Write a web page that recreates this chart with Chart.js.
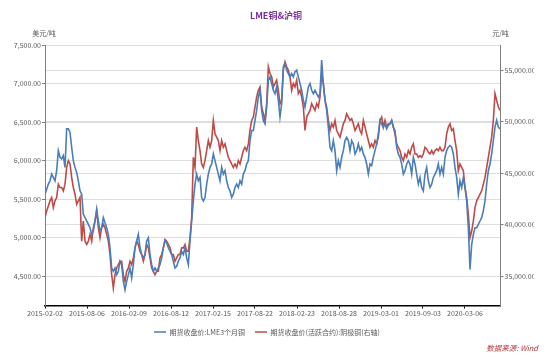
<!DOCTYPE html>
<html><head><meta charset="utf-8">
<script src="https://cdn.jsdelivr.net/npm/chart.js@4/dist/chart.umd.min.js"></script>
<style>html,body{margin:0;padding:0;background:#fff}canvas{display:block}</style>
</head><body>
<canvas id="c" width="550" height="357"></canvas>
<script>
// ---- data ----
const chartTitle = 'LME铜&沪铜';
const seriesNames = ['期货收盘价:LME3个月铜', '期货收盘价(活跃合约):阴极铜(右轴)'];
const xTickLabels = ['2015-02-02','2015-08-06','2016-02-09','2016-08-12','2017-02-15','2017-08-22','2018-02-23','2018-08-28','2019-03-01','2019-09-03','2020-03-06'];
const samplesPerLabel = 25.2;      // samples between two date labels
const leftTicks = [4500,5000,5500,6000,6500,7000,7500];
const rightTicks = [35000,40000,45000,50000,55000];
const leftRange = [4122, 7500];
const rightRange = [32171, 57439];

// LME 3-month copper (USD/t), left axis
const lmeCopper = [
5565,5631,5696,5739,5826,5783,5739,5870,6130,6044,6022,6065,5913,6413,6413,6370,6174,6000,5913,5848,
5739,5609,5565,5305,5261,5218,5174,5131,5044,5087,5218,5370,5218,5087,5131,5261,5196,5131,5044,4870,
4609,4566,4609,4522,4566,4696,4652,4435,4326,4435,4522,4609,4479,4652,4870,4957,5044,4870,4783,4739,
4783,4957,5000,4783,4652,4566,4609,
4566,4609,4652,4739,4870,4957,4935,4870,4826,4783,4696,4609,4631,4696,4739,4826,4783,4870,4739,4652,
4957,5218,5478,5696,5826,5739,5783,5522,5478,5522,5696,5826,5913,5957,6087,6000,5913,5826,5739,5913,
5826,5870,5739,5652,5609,5522,5565,5652,5696,5652,5739,5696,5826,5870,5957,6000,6261,6391,6391,6522,
6652,6826,6913,6652,6522,6478,6696,
7043,7087,7000,6913,6869,6956,6783,6565,6739,7217,7261,7174,7130,7087,7130,7087,7152,7174,7087,7000,
6913,6783,6696,6826,6956,7000,6913,6869,6913,6869,6826,6869,7304,7000,6783,6652,6435,6174,6130,6261,
6130,5870,6000,5913,6044,6130,6261,6304,6261,6130,6261,6217,6087,6130,6217,6130,6174,6087,6044,5957,
5826,5957,5935,6044,6130,6217,6348,
6522,6478,6435,6478,6413,6457,6478,6522,6435,6391,6174,6087,6044,5957,5826,5870,5957,6000,5957,5826,
6044,5957,5826,5696,5783,5652,5609,5826,5913,5739,5652,5696,5783,5826,5870,5957,5826,5913,5826,6044,
6130,6174,6196,6174,6087,5913,5783,5565,5739,5652,5783,5652,5478,5131,4590,4913,5044,5131,5131,5174,
5218,5261,5348,5478,5696,5870,5957,6087,6261,6435,6522,6435,6413
];

// SHFE cathode copper active contract (CNY/t), right axis
const shfeCopper = [
40691,41342,41830,42317,42643,41667,42317,42643,43943,43618,43618,43293,43943,45569,46220,45895,44594,43618,42968,41992,
42317,42643,38415,40366,38415,38090,38415,39065,38415,39716,40366,41342,39716,38740,39716,40041,39716,39065,38415,37114,
35163,33862,35163,35813,36139,36464,36464,35163,34513,35488,35813,36464,36139,36789,37765,38415,38090,37439,37114,36464,
37114,38090,37765,36789,35813,35488,35163,
35488,35488,36789,37114,37765,38578,38415,38090,37765,37114,37114,36464,36789,37114,37114,37765,37765,38090,37439,37439,
38740,40691,46545,45569,49472,48171,47195,45895,45569,46220,47195,48171,47521,48171,50122,48821,48496,48171,47195,48171,
47521,47846,47195,46545,46220,45895,45569,45895,45569,46220,45895,46545,47195,47521,47195,47846,49147,50122,50447,51423,
52399,53049,53374,51423,50773,50122,51748,
55325,54675,54350,53374,53699,54025,53049,51748,52073,55000,55813,55325,55000,54350,53049,53699,53374,54025,52724,53049,
52399,51423,49147,50447,50773,51098,51748,51423,51098,51748,51423,52399,54675,53699,52073,51423,50122,49147,49797,49472,
50122,49147,48821,48496,49147,49797,50122,50773,50447,50122,50285,49797,49147,49472,49797,49147,48821,50122,49472,48821,
48171,47521,47846,47521,48171,47846,48496,
50122,50447,49472,50122,49472,49797,49797,50122,49472,48821,47846,47521,47195,46545,46220,46870,46545,47195,46870,47521,
47846,46870,46870,46545,46708,46545,46870,47521,47358,47033,46870,47195,46870,47195,47358,47195,47521,47195,47195,47521,
48821,49472,49797,49147,49309,48171,47195,45244,45895,45569,45244,43618,42643,41017,38740,39391,40366,41667,42317,42643,
42968,43293,43943,44594,45569,46545,47521,48496,50122,52724,52073,51423,51098
];

// ---- chart ----
const FONT = "'Noto Sans CJK SC', 'Noto Sans', sans-serif";
Chart.defaults.font.family = FONT;
const fmt = v => v.toLocaleString('en-US', {minimumFractionDigits: 2, maximumFractionDigits: 2});
const xMax = Math.max(lmeCopper.length, shfeCopper.length) - 0.7;

const textPlugin = {
  id: 'texts',
  afterDraw(chart) {
    const ctx = chart.ctx, a = chart.chartArea;
    ctx.save();
    ctx.textAlign = 'center';
    ctx.textBaseline = 'middle';
    ctx.fillStyle = '#7b2c9e';
    ctx.font = "bold 9px " + FONT;
    ctx.fillText(chartTitle, 276, 16);
    ctx.fillStyle = '#595959';
    ctx.font = "7px " + FONT;
    ctx.fillText('美元/吨', a.left - 1, 33);
    ctx.fillText('元/吨', a.right, 33);
    ctx.textAlign = 'right';
    ctx.fillStyle = '#b0393b';
    ctx.font = "italic 7.5px " + FONT;
    ctx.fillText('数据来源: Wind', 538, 348);
    ctx.restore();
  }
};

new Chart(document.getElementById('c'), {
  type: 'line',
  data: {
    datasets: [
      { label: seriesNames[0], data: lmeCopper.map((v, i) => ({x: i, y: v})), yAxisID: 'y',
        borderColor: '#4a7ebb', backgroundColor: '#4a7ebb', borderWidth: 1.6, pointRadius: 0, tension: 0 },
      { label: seriesNames[1], data: shfeCopper.map((v, i) => ({x: i, y: v})), yAxisID: 'y1',
        borderColor: '#be4b48', backgroundColor: '#be4b48', borderWidth: 1.6, pointRadius: 0, tension: 0 }
    ]
  },
  options: {
    responsive: false,
    animation: false,
    devicePixelRatio: 1,
    layout: { padding: { top: 45, left: 0, right: 16, bottom: 11.5 } },
    plugins: {
      title: { display: false },
      tooltip: { enabled: false },
      legend: {
        position: 'bottom',
        labels: { usePointStyle: true, pointStyle: 'line', pointStyleWidth: 12, boxHeight: 7,
                  font: { size: 7 }, color: '#595959', padding: 10 }
      }
    },
    scales: {
      x: {
        type: 'linear', min: 0, max: xMax,
        afterBuildTicks: s => { s.ticks = xTickLabels.map((_, k) => ({ value: k * samplesPerLabel })); },
        afterFit: s => { s.height = 13; },
        ticks: { autoSkip: false, maxRotation: 0, padding: 1, color: '#595959', font: { size: 7 },
                 callback: (v, i) => xTickLabels[i] },
        grid: { drawOnChartArea: false, drawTicks: true, tickLength: 3, tickColor: '#000' },
        border: { color: '#000', width: 1.5 }
      },
      y: {
        position: 'left', min: leftRange[0], max: leftRange[1],
        afterBuildTicks: s => { s.ticks = leftTicks.map(v => ({ value: v })); },
        afterFit: s => { s.width = 45; },
        ticks: { padding: 1, color: '#595959', font: { size: 7 }, callback: v => fmt(v) },
        grid: { color: '#dedede', lineWidth: 1, tickLength: 3, tickColor: '#7f7f7f' },
        border: { color: '#7f7f7f', width: 1 }
      },
      y1: {
        position: 'right', min: rightRange[0], max: rightRange[1],
        afterBuildTicks: s => { s.ticks = rightTicks.map(v => ({ value: v })); },
        afterFit: s => { s.width = 33.5; },
        ticks: { padding: 1, color: '#595959', font: { size: 7 }, callback: v => fmt(v) },
        grid: { color: '#dedede', lineWidth: 1, tickLength: 3, tickColor: '#7f7f7f', drawOnChartArea: true },
        border: { color: '#7f7f7f', width: 1 }
      }
    }
  },
  plugins: [textPlugin]
});
</script>
</body></html>
